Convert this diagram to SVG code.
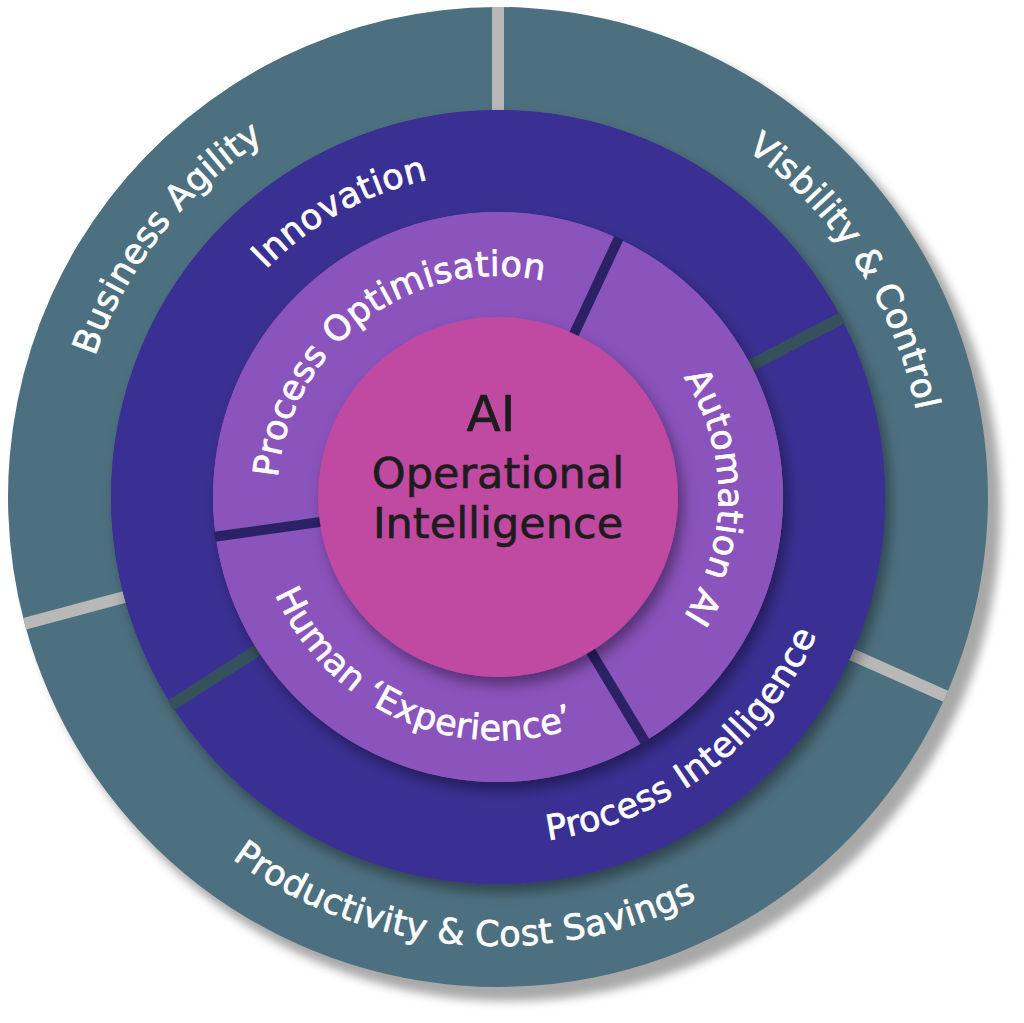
<svg xmlns="http://www.w3.org/2000/svg" width="1024" height="1023" viewBox="0 0 1024 1023">
<style>
.teal{fill:#4d7080}
.indigo{fill:#3a3093}
.purple{fill:#8b53bc}
.ring-text{font-family:"DejaVu Sans","Liberation Sans",sans-serif;font-size:35px;fill:#ffffff;stroke:#ffffff;stroke-width:0.7px;letter-spacing:0.3px}
.center-text{font-family:"DejaVu Sans","Liberation Sans",sans-serif;fill:#1c1c1c;stroke:#1c1c1c;stroke-width:0.6px;text-anchor:middle}
.div-outer{stroke:#b8b8b8;stroke-width:12;fill:none}
.div-mid{stroke:#35515c;stroke-width:12;fill:none}
.div-inner{stroke:#2b2266;stroke-width:10;fill:none}
</style>
<defs>
<filter id="outerShadow" x="-10%" y="-10%" width="120%" height="120%">
<feGaussianBlur stdDeviation="5"/>
</filter>
<filter id="ds" x="-20%" y="-20%" width="140%" height="140%">
<feDropShadow dx="5" dy="8" stdDeviation="7" flood-color="#000000" flood-opacity="0.4"/>
</filter>
<path id="p-business" d="M 180.7 782.7 A 427 427 0 0 1 698.5 120.0"/>
<path id="p-visibility" d="M 331.2 103.9 A 427 427 0 0 1 789.2 809.3"/>
<path id="p-productivity" d="M 50.7 536.1 A 449 449 0 0 0 931.7 613.2"/>
<path id="p-innovation" d="M 190.7 602.8 A 325 325 0 0 1 750.6 292.5"/>
<path id="p-procint" d="M 263.6 752.8 A 347 347 0 0 0 805.8 336.8"/>
<path id="p-procopt" d="M 300.2 595.6 A 221 221 0 0 1 650.1 336.7"/>
<path id="p-automation" d="M 536.4 279.4 A 221 221 0 0 1 536.4 714.6"/>
<path id="p-human" d="M 262.2 438.2 A 243 243 0 0 0 699.5 632.9"/>
</defs>

<circle cx="509" cy="509" r="492" fill="#a8a8a8" filter="url(#outerShadow)"/>

<g id="business-agility">
<path class="teal" d="M 498 7 A 490 490 0 0 0 24.7 623.8 L 131.0 595.3 A 380 380 0 0 1 498 117 Z"/>
<text class="ring-text"><textPath href="#p-business" startOffset="50%" text-anchor="middle">Business Agility</textPath></text>
</g>
<g id="productivity-cost-savings">
<path class="teal" d="M 24.7 623.8 A 490 490 0 0 0 945.6 696.3 L 845.1 651.6 A 380 380 0 0 1 131.0 595.3 Z"/>
<text class="ring-text"><textPath href="#p-productivity" startOffset="50%" text-anchor="middle">Productivity &amp; Cost Savings</textPath></text>
</g>
<g id="visibility-control">
<path class="teal" d="M 945.6 696.3 A 490 490 0 0 0 498 7 L 498 117 A 380 380 0 0 1 845.1 651.6 Z"/>
<text class="ring-text"><textPath href="#p-visibility" startOffset="50%" text-anchor="middle">Visbility &amp; Control</textPath></text>
</g>
<g id="dividers-outer">
<line class="div-outer" x1="498" y1="117" x2="498" y2="7"/>
<line class="div-outer" x1="131.0" y1="595.3" x2="24.7" y2="623.8"/>
<line class="div-outer" x1="845.1" y1="651.6" x2="945.6" y2="696.3"/>
</g>

<circle class="indigo" cx="498" cy="497" r="387" filter="url(#ds)"/>
<g id="innovation">
<path class="indigo" d="M 841.3 318.3 A 387 387 0 1 0 171.6 704.9 L 261.8 647.4 A 280 280 0 1 1 746.4 367.7 Z"/>
<text class="ring-text"><textPath href="#p-innovation" startOffset="50%" text-anchor="middle">Innovation</textPath></text>
</g>
<g id="process-intelligence">
<path class="indigo" d="M 171.6 704.9 A 387 387 0 0 0 841.3 318.3 L 746.4 367.7 A 280 280 0 0 1 261.8 647.4 Z"/>
<text class="ring-text"><textPath href="#p-procint" startOffset="50%" text-anchor="middle">Process Intelligence</textPath></text>
</g>
<g id="dividers-middle">
<line class="div-mid" x1="746.4" y1="367.7" x2="842.2" y2="317.9"/>
<line class="div-mid" x1="261.8" y1="647.4" x2="170.8" y2="705.5"/>
</g>

<circle class="purple" cx="498" cy="497" r="285" filter="url(#ds)"/>
<g id="process-optimisation">
<path class="purple" d="M 618.4 238.7 A 285 285 0 0 0 215.8 536.7 L 324.7 521.4 A 175 175 0 0 1 572.0 338.4 Z"/>
<text class="ring-text"><textPath href="#p-procopt" startOffset="50%" text-anchor="middle">Process Optimisation</textPath></text>
</g>
<g id="human-experience">
<path class="purple" d="M 215.8 536.7 A 285 285 0 0 0 644.8 741.3 L 588.1 647.0 A 175 175 0 0 1 324.7 521.4 Z"/>
<text class="ring-text"><textPath href="#p-human" startOffset="50%" text-anchor="middle">Human ‘Experience’</textPath></text>
</g>
<g id="automation-ai">
<path class="purple" d="M 644.8 741.3 A 285 285 0 0 0 618.4 238.7 L 572.0 338.4 A 175 175 0 0 1 588.1 647.0 Z"/>
<text class="ring-text"><textPath href="#p-automation" startOffset="50%" text-anchor="middle">Automation AI</textPath></text>
</g>
<g id="dividers-inner">
<line class="div-inner" x1="572.0" y1="338.4" x2="618.9" y2="237.8"/>
<line class="div-inner" x1="324.7" y1="521.4" x2="214.8" y2="536.8"/>
<line class="div-inner" x1="588.1" y1="647.0" x2="645.3" y2="742.2"/>
</g>

<g id="ai-operational-intelligence">
<circle cx="498" cy="497" r="180" fill="#c04aa2" filter="url(#ds)"/>
<text class="center-text" x="491" y="431" font-size="50">AI</text>
<text class="center-text" x="498" y="488" font-size="43">Operational</text>
<text class="center-text" x="498" y="538" font-size="43">Intelligence</text>
</g>
</svg>
